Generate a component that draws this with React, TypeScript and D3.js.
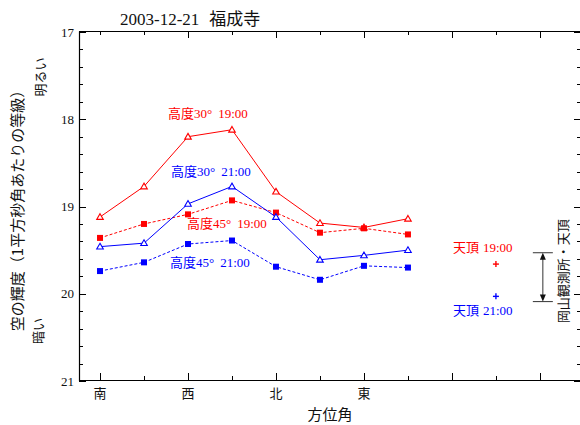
import React from "react";
import * as d3 from "d3";

// Azimuth of each measurement (degrees from south, through west)
const azimuths = [0, 45, 90, 135, 180, 225, 270, 315];

// Sky brightness in mag/arcsec^2
const alt30at19 = [19.12, 18.77, 18.2, 18.12, 18.83, 19.19, 19.24, 19.14];
const alt45at19 = [19.36, 19.2, 19.09, 18.93, 19.07, 19.3, 19.25, 19.32];
const alt30at21 = [19.46, 19.42, 18.97, 18.77, 19.12, 19.61, 19.56, 19.5];
const alt45at21 = [19.74, 19.64, 19.43, 19.39, 19.69, 19.84, 19.68, 19.7];

// Zenith readings
const zenithAz = 405;
const zenith19 = 19.66;
const zenith21 = 20.03;

// Okayama Observatory zenith range
const okayamaAz = 453;
const okayamaRange = [19.53, 20.09];

const yTicks = [17, 18, 19, 20, 21];
const dirLabels = ["南", "西", "北", "東"];

const W = 580;
const H = 425;
const RED = "#ff0000";
const BLUE = "#0000ff";
const SERIF = "'Liberation Serif', 'Times New Roman', serif";
const SANS = "'Noto Sans CJK JP', 'Noto Sans', sans-serif";

const x = d3.scaleLinear().domain([-21.5, 491]).range([79, 580]);
const y = d3.scaleLinear().domain([17, 21]).range([32, 381]);

type Series = {
  values: number[];
  color: string;
  marker: "tri" | "sq";
  dash?: string;
};

const series: Series[] = [
  { values: alt30at19, color: RED, marker: "tri" },
  { values: alt45at19, color: RED, marker: "sq", dash: "3,2" },
  { values: alt30at21, color: BLUE, marker: "tri" },
  { values: alt45at21, color: BLUE, marker: "sq", dash: "3,2" },
];

const line = d3
  .line<[number, number]>()
  .x((d) => x(d[0]))
  .y((d) => y(d[1]));

function Label({
  az,
  mag,
  head,
  deg,
  time,
  color,
}: {
  az: number;
  mag: number;
  head: string;
  deg?: string;
  time: string;
  color: string;
}) {
  return (
    <text x={x(az)} y={y(mag)} fill={color} fontSize={13}>
      <tspan fontFamily={SANS}>{head}</tspan>
      {deg ? <tspan fontFamily={SERIF}>{deg}</tspan> : null}
      <tspan fontFamily={SERIF} dx={deg ? 6 : 4}>
        {time}
      </tspan>
    </text>
  );
}

export default function App() {
  const minorY = d3.range(17, 21.001, 0.2);
  const bottomTicks = d3.range(0, 461, 45);
  const topTicks = d3.range(0, 406, 45).concat([450]);

  return (
    <svg
      width={W}
      height={H}
      style={{ position: "absolute", left: 0, top: 0, background: "#fff" }}
    >
      {/* Title */}
      <text x={120} y={25} fontSize={17} fill="#111">
        <tspan fontFamily={SERIF}>2003-12-21</tspan>
        <tspan fontFamily={SANS} dx={10}>
          福成寺
        </tspan>
      </text>

      {/* Frame */}
      <line x1={79.5} x2={79.5} y1={31.5} y2={381} stroke="#000" strokeWidth={1.2} />
      <line x1={79} x2={580} y1={31.5} y2={31.5} stroke="#000" strokeWidth={1.2} />
      <line x1={79} x2={580} y1={380.5} y2={380.5} stroke="#000" strokeWidth={1.2} />

      {/* Y ticks, left and right */}
      {minorY.map((v, i) => {
        const major = i % 5 === 0;
        const yy = Math.round(y(v)) + 0.5;
        return (
          <g key={"yt" + i}>
            <line x1={79} x2={79 + (major ? 7 : 4)} y1={yy} y2={yy} stroke="#000" />
            <line x1={580 - (major ? 6 : 3)} x2={580} y1={yy} y2={yy} stroke="#000" />
          </g>
        );
      })}
      {yTicks.map((v) => (
        <text
          key={"yl" + v}
          x={74}
          y={y(v)}
          dy="0.35em"
          textAnchor="end"
          fontFamily={SERIF}
          fontSize={13}
          fill="#111"
        >
          {v}
        </text>
      ))}

      {/* X ticks, bottom and top */}
      {bottomTicks.map((a) => {
        const major = a % 90 === 0;
        const xx = Math.round(x(a)) + 0.5;
        return (
          <line key={"bt" + a} x1={xx} x2={xx} y1={380} y2={380 - (major ? 7 : 4)} stroke="#000" />
        );
      })}
      {topTicks.map((a) => {
        const major = a % 90 === 0 && a > 0;
        const xx = Math.round(x(a)) + 0.5;
        return (
          <line key={"tt" + a} x1={xx} x2={xx} y1={32} y2={32 + (major ? 6 : 3)} stroke="#000" />
        );
      })}
      {dirLabels.map((d, i) => (
        <text
          key={d}
          x={x(i * 90)}
          y={398}
          textAnchor="middle"
          fontFamily={SANS}
          fontSize={13}
          fill="#111"
        >
          {d}
        </text>
      ))}

      {/* Axis titles */}
      <text x={330} y={420} textAnchor="middle" fontFamily={SANS} fontSize={15} fill="#111">
        方位角
      </text>
      <text
        transform="translate(23,207) rotate(-90)"
        textAnchor="middle"
        fontFamily={SANS}
        fontSize={15}
        fill="#111"
      >
        空の輝度（1平方秒角あたりの等級）
      </text>
      <text
        transform="translate(45,77) rotate(-90)"
        textAnchor="middle"
        fontFamily={SANS}
        fontSize={13}
        fill="#111"
      >
        明るい
      </text>
      <text
        transform="translate(43,331) rotate(-90)"
        textAnchor="middle"
        fontFamily={SANS}
        fontSize={13}
        fill="#111"
      >
        暗い
      </text>

      {/* Series */}
      {series.map((s, si) => {
        const pts = azimuths.map((a, i) => [a, s.values[i]] as [number, number]);
        return (
          <g key={"s" + si}>
            <path
              d={line(pts) || ""}
              fill="none"
              stroke={s.color}
              strokeWidth={1}
              strokeDasharray={s.dash}
            />
            {pts.map((p, i) => {
              const cx = x(p[0]);
              const cy = y(p[1]);
              return s.marker === "tri" ? (
                <path
                  key={i}
                  d={`M${cx},${cy - 3.3}L${cx + 3.3},${cy + 2.4}L${cx - 3.3},${cy + 2.4}Z`}
                  fill="#fff"
                  stroke={s.color}
                  strokeWidth={1.1}
                />
              ) : (
                <rect key={i} x={cx - 3} y={cy - 3} width={6} height={6} fill={s.color} />
              );
            })}
          </g>
        );
      })}

      {/* Zenith readings */}
      {[
        { v: zenith19, c: RED },
        { v: zenith21, c: BLUE },
      ].map((z, i) => {
        const cx = x(zenithAz);
        const cy = y(z.v);
        return (
          <g key={"z" + i} stroke={z.c} strokeWidth={1.4}>
            <line x1={cx - 3} x2={cx + 3} y1={cy} y2={cy} />
            <line x1={cx} x2={cx} y1={cy - 3} y2={cy + 3} />
          </g>
        );
      })}

      {/* Okayama range bracket */}
      {(() => {
        const cx = x(okayamaAz);
        const y1 = y(okayamaRange[0]);
        const y2 = y(okayamaRange[1]);
        return (
          <g>
            <line x1={cx - 10} x2={cx + 10} y1={y1} y2={y1} stroke="#333" />
            <line x1={cx - 10} x2={cx + 10} y1={y2} y2={y2} stroke="#333" />
            <line x1={cx} x2={cx} y1={y1 + 4} y2={y2 - 4} stroke="#333" />
            <path d={`M${cx},${y1}L${cx + 3},${y1 + 7}L${cx - 3},${y1 + 7}Z`} fill="#111" />
            <path d={`M${cx},${y2}L${cx + 3},${y2 - 7}L${cx - 3},${y2 - 7}Z`} fill="#111" />
            <text
              transform={`translate(568,${(y1 + y2) / 2 - 6}) rotate(-90)`}
              textAnchor="middle"
              fontFamily={SANS}
              fontSize={13}
              fill="#111"
            >
              岡山観測所・天頂
            </text>
          </g>
        );
      })()}

      {/* Series labels */}
      <Label az={69.5} mag={17.99} head="高度" deg="30°" time="19:00" color={RED} />
      <Label az={72.6} mag={18.65} head="高度" deg="30°" time="21:00" color={BLUE} />
      <Label az={89} mag={19.25} head="高度" deg="45°" time="19:00" color={RED} />
      <Label az={71.6} mag={19.69} head="高度" deg="45°" time="21:00" color={BLUE} />
      <Label az={361} mag={19.52} head="天頂" time="19:00" color={RED} />
      <Label az={361} mag={20.24} head="天頂" time="21:00" color={BLUE} />
    </svg>
  );
}
